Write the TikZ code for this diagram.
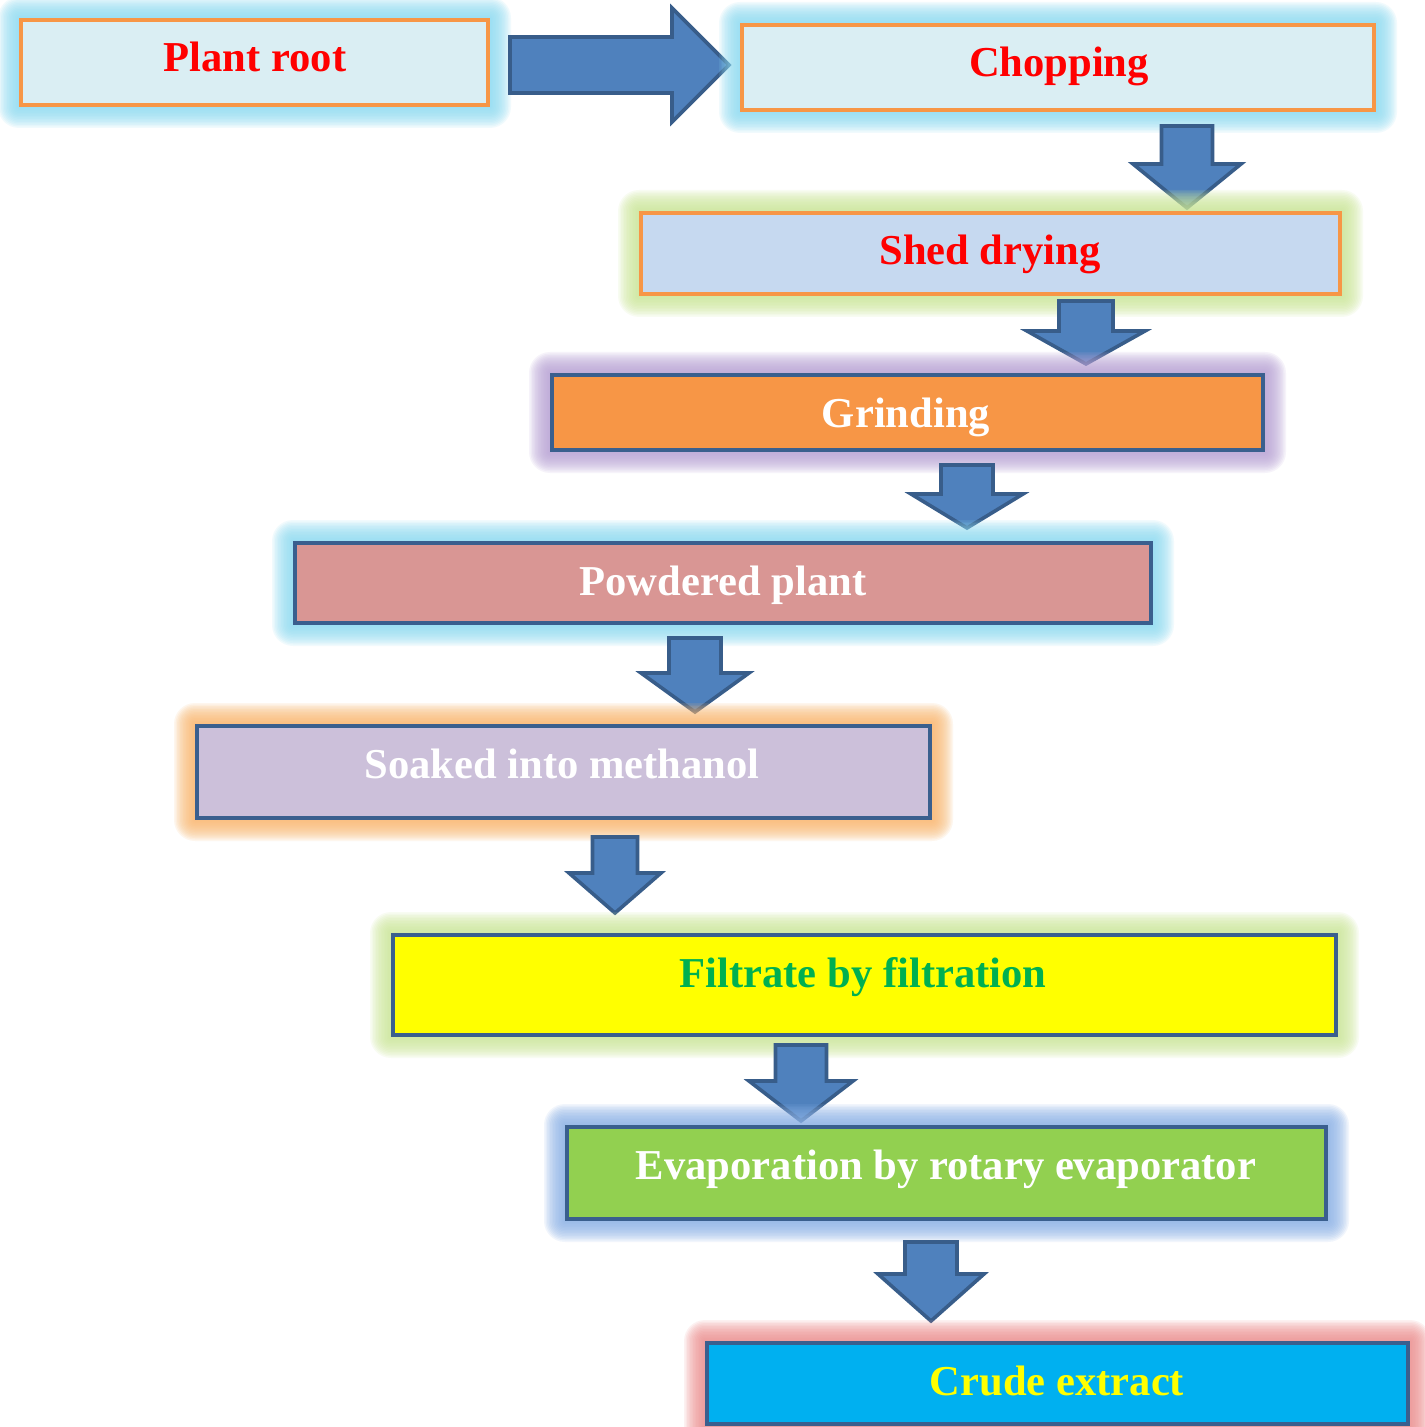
\documentclass[tikz,border=0pt]{standalone}
\usepackage{fontspec}
\setmainfont{Liberation Serif}
\definecolor{arrfill}{HTML}{4F81BD}
\definecolor{arrline}{HTML}{385D8A}
\definecolor{orangeline}{HTML}{F79646}
\definecolor{blueline}{HTML}{3A5F8E}
\definecolor{fillA}{HTML}{DAEEF3}
\definecolor{fillB}{HTML}{C6D9F0}
\definecolor{fillC}{HTML}{F79646}
\definecolor{fillD}{HTML}{D99694}
\definecolor{fillE}{HTML}{CCC0DA}
\definecolor{fillF}{HTML}{FFFF00}
\definecolor{fillG}{HTML}{92D050}
\definecolor{fillH}{HTML}{00B0F0}
\definecolor{glowCyan}{HTML}{8FDDF3}
\definecolor{glowGreen}{HTML}{CDE89A}
\definecolor{glowPurple}{HTML}{B9A3D6}
\definecolor{glowOrange}{HTML}{FAB870}
\definecolor{glowBlue}{HTML}{8DB3E8}
\definecolor{glowRed}{HTML}{EE9090}
\definecolor{txtGreen}{HTML}{00B050}
\definecolor{txtRed}{HTML}{FF0000}
\definecolor{txtYellow}{HTML}{FFFF00}
\tikzset{
  stepbox/.style={rectangle, inner sep=0pt, outer sep=0pt, line width=2pt},
  lbl/.style={font=\fontsize{21.3}{25}\selectfont\bfseries, inner sep=0pt, anchor=base},
  blockarrow/.style={fill=arrfill, draw=arrline, line width=1.8pt, line join=miter},
}
% #1 name, #2 x1, #3 y1, #4 x2, #5 y2, #6 fill, #7 line, #8 glow
\newcommand{\flowbox}[8]{%
  \foreach \g in {1,...,14} {
    \fill[#8, opacity=0.12, rounded corners=\g*0.75pt] (#2-1.5*\g,#3-1.5*\g) rectangle (#4+1.5*\g,#5+1.5*\g);
  }
  \node[stepbox, fill=#6, draw=#7, minimum width={(#4-#2-4)*0.5pt}, minimum height={(#5-#3-4)*0.5pt}]
    (#1) at ({(#2+#4)/2},{(#3+#5)/2}) {};
}
% #1 cx, #2 top, #3 headY, #4 tipY, #5 shaft half, #6 head half
\newcommand{\downblock}[6]{%
  \draw[blockarrow] (#1-#5,#2) -- (#1+#5,#2) -- (#1+#5,#3) -- (#1+#6,#3) -- (#1,#4)
    -- (#1-#6,#3) -- (#1-#5,#3) -- cycle;
}
\begin{document}
\begin{tikzpicture}[x=0.5pt,y=-0.5pt]
\useasboundingbox (0,0) rectangle (1424,1427);
\fill[white] (0,0) rectangle (1424,1427);

\flowbox{b1}{19}{18}{490}{107}{fillA}{orangeline}{glowCyan}
\draw[blockarrow] (510,37) -- (672,37) -- (672,8) -- (729,65) -- (672,122) -- (672,93) -- (510,93) -- cycle;
\flowbox{b2}{740}{23}{1376}{112}{fillA}{orangeline}{glowCyan}
\downblock{1187}{126}{164}{208}{25.5}{54}
\flowbox{b3}{639}{211}{1342}{296}{fillB}{orangeline}{glowGreen}
\downblock{1086}{301}{331}{364}{27}{59}
\flowbox{b4}{550}{373}{1265}{452}{fillC}{blueline}{glowPurple}
\downblock{967}{465}{494}{528}{26}{56}
\flowbox{b5}{293}{541}{1153}{625}{fillD}{blueline}{glowCyan}
\downblock{695}{638}{673}{712}{26}{54}
\flowbox{b6}{195}{724}{932}{820}{fillE}{blueline}{glowOrange}
\downblock{615}{837}{873}{913}{22.5}{46}
\flowbox{b7}{391}{933}{1338}{1037}{fillF}{blueline}{glowGreen}
\downblock{801}{1045}{1081}{1121}{25.5}{52}
\flowbox{b8}{565}{1125}{1328}{1221}{fillG}{blueline}{glowBlue}
\downblock{931}{1242}{1274}{1321}{26}{53}
\flowbox{b9}{705}{1341}{1410}{1426}{fillH}{blueline}{glowRed}

\node[lbl, text=txtRed] (t1) at (255,72) {Plant root};
\node[lbl, text=txtRed] (t2) at (1059,77) {Chopping};
\node[lbl, text=txtRed] (t3) at (990,265) {Shed drying};
\node[lbl, text=white] (t4) at (906,428) {Grinding};
\node[lbl, text=white] (t5) at (723,595) {Powdered plant};
\node[lbl, text=white] (t6) at (562,778) {Soaked into methanol};
\node[lbl, text=txtGreen] (t7) at (863,987) {Filtrate by filtration};
\node[lbl, text=white] (t8) at (946,1179) {Evaporation by rotary evaporator};
\node[lbl, text=txtYellow] (t9) at (1057,1395) {Crude extract};
\end{tikzpicture}
\end{document}
